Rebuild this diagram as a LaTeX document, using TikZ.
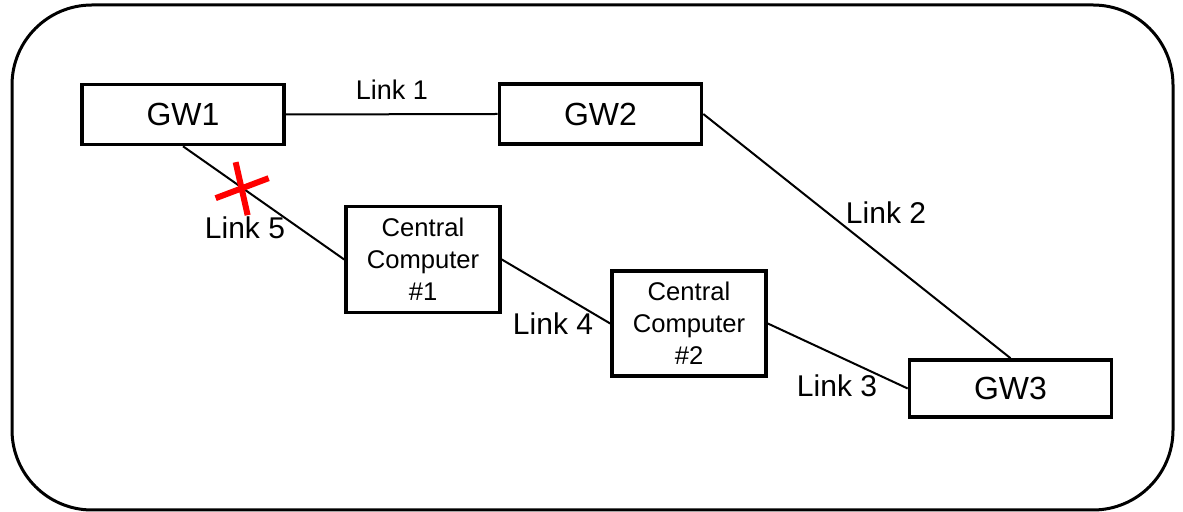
\documentclass[tikz,border=0pt]{standalone}
\usepackage{fontspec}
\setmainfont{Liberation Sans}
\begin{document}
\begin{tikzpicture}[x=.5pt,y=-.5pt,
  box/.style={draw,line width=1.8pt,inner sep=0pt},
  gw/.style={box,minimum width=101pt,minimum height=30pt,font=\fontsize{16}{19}\selectfont},
  cc/.style={box,minimum width=77pt,minimum height=53pt,align=center,font=\fontsize{12.8}{16}\selectfont},
  lbl/.style={inner sep=0pt,font=\fontsize{15}{17}\selectfont},
  link/.style={line width=1pt},
  cross/.style={red,line width=3pt}]
\useasboundingbox (0,0) rectangle (1183,512);
\draw[line width=1.5pt,rounded corners=40pt] (12,5) rectangle (1173,510);
% gateways and computers
\node[gw] (gw1) at (183,114.5) {GW1};
\node[gw] (gw2) at (600.5,114) {GW2};
\node[gw,minimum height=28.5pt] (gw3) at (1010.5,388.5) {GW3};
\node[cc] (cc1) at (423,259.5) {Central\\Computer\\\#1};
\node[cc,minimum height=52.5pt] (cc2) at (689,323.5) {Central\\Computer\\\#2};
% links
\draw[link] (gw1.east)--(gw2.west);
\draw[link] (gw2.east)--(gw3.north);
\draw[link] (cc2.east)--(gw3.west);
\draw[link] (cc1.east)--(cc2.west);
\draw[link] (gw1.south)--(cc1.west) coordinate[pos=.37] (cut);
\node[lbl,font=\fontsize{13.5}{16}\selectfont] (l1) at (392,90) {Link 1};
\node[lbl] (l2) at (886,213) {Link 2};
\node[lbl] (l3) at (837,386) {Link 3};
\node[lbl] (l4) at (553,324) {Link 4};
\node[lbl] (l5) at (245,228) {Link 5};
% broken link
\draw[cross] ([shift={(-27,10)}]cut)--([shift={(26,-10)}]cut);
\draw[cross] ([shift={(-7,-26)}]cut)--([shift={(5,27)}]cut);
\end{tikzpicture}
\end{document}
